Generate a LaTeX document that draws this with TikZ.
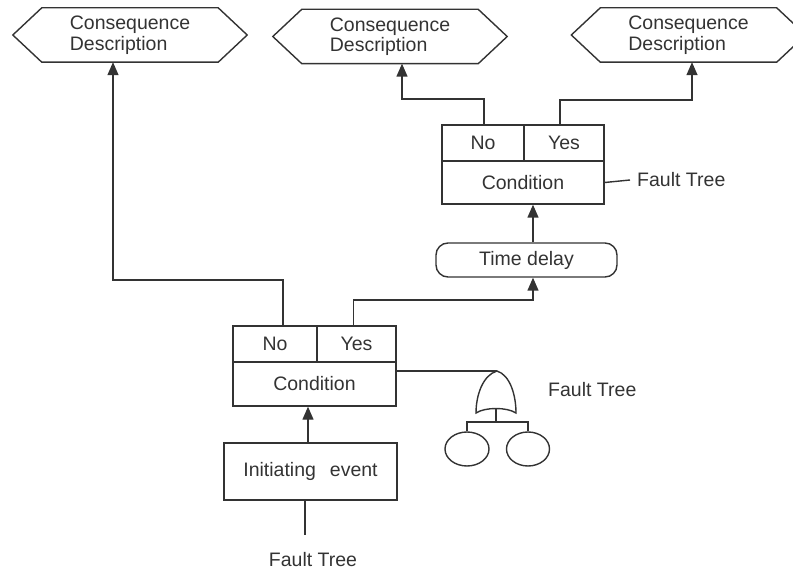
\documentclass[tikz,border=0pt]{standalone}
\usepackage{fontspec}
\setmainfont{Liberation Sans}
\usetikzlibrary{arrows.meta,shapes.geometric}
\definecolor{ink}{HTML}{333333}
\newcommand\hexout[1]{\draw[ln] (#1.north west) -- (#1.north east) -- ([xshift=29pt]#1.east) -- (#1.south east) -- (#1.south west) -- ([xshift=-29pt]#1.west) -- cycle;}
\begin{document}
\begin{tikzpicture}[x=1pt,y=-1pt,
  every node/.style={text=ink,font=\fontsize{19.5}{20.5}\selectfont,inner sep=0pt},
  ln/.style={draw=ink,line width=1.4pt},
  arr/.style={ln,-{Triangle[length=13pt,width=11pt]}},
  hexbox/.style={minimum width=176pt,minimum height=54pt,align=left},
  cell/.style={draw=ink,line width=1.4pt,rectangle,anchor=center}]
\useasboundingbox (0,0) rectangle (793,572);
% consequence hexagons
\node[hexbox] (hex1) at (130,35) {Consequence\\Description};
\hexout{hex1}
\node[hexbox] (hex2) at (390,36.5) {Consequence\\Description};
\hexout{hex2}
\node[hexbox] (hex3) at (688.5,35) {Consequence\\Description};
\hexout{hex3}
% upper condition
\node[cell,minimum width=82pt,minimum height=36pt] (no2) at (483,143) {No};
\node[cell,minimum width=80pt,minimum height=36pt] (yes2) at (564,143) {Yes};
\node[cell,minimum width=162pt,minimum height=43pt] (cond2) at (523,182.5) {Condition};
\node[anchor=west] (ft2) at (637,180) {Fault Tree};
% time delay
\node[draw=ink,line width=1.4pt,rounded corners=12pt,minimum width=181pt,minimum height=34pt] (delay) at (526.5,260) {Time delay};
% lower condition
\node[cell,minimum width=84pt,minimum height=36pt] (no1) at (275,344) {No};
\node[cell,minimum width=79pt,minimum height=36pt] (yes1) at (356.5,344) {Yes};
\node[cell,minimum width=163pt,minimum height=44pt] (cond1) at (314.5,384) {Condition};
\node[anchor=west] (ft1) at (548,390) {Fault Tree};
% initiating event
\node[cell,minimum width=173pt,minimum height=57pt] (ie) at (310.5,471.5) {Initiating\hspace{14pt}event};
\node (ft0) at (313,560) {Fault Tree};
% fault tree symbol
\coordinate (gtop) at (497,371);
\coordinate (gbot) at (496,409);
\draw[ln] (gtop) .. controls (483,375) and (476,395) .. (476,413)
  .. controls (485,407) and (507,407) .. (516,413)
  .. controls (516,395) and (510,375) .. (gtop) -- cycle;
\node[draw=ink,line width=1.4pt,ellipse,minimum width=44pt,minimum height=34pt] (e1) at (467,449) {};
\node[draw=ink,line width=1.4pt,ellipse,minimum width=43pt,minimum height=34pt] (e2) at (528,449) {};
\coordinate (bar) at (496,422);
\draw[ln] (gbot) -- (bar);
\draw[ln] (e1.north) -- (e1.north |- bar) -- (e2.north |- bar) -- (e2.north);
% connectors
\coordinate (k1) at (113,280);
\coordinate (k2) at (533,300);
\coordinate (k3) at (402,99);
\coordinate (k4) at (692,100);
\coordinate (k5) at (308,0);
\coordinate (k6) at (305,535);
\draw[arr] ([xshift=8pt]no1.north) |- (k1) -- (k1 |- hex1.south);
\draw[arr] ([xshift=-3pt]yes1.north) |- (k2) -- (k2 |- delay.south);
\draw[arr] (k2 |- delay.north) -- (k2 |- cond2.south);
\draw[arr] ([xshift=1pt]no2.north) |- (k3) -- (k3 |- hex2.south);
\draw[arr] ([xshift=-4pt]yes2.north) |- (k4) -- (k4 |- hex3.south);
\draw[ln] (cond2.east) -- ([xshift=-7pt]ft2.west);
\draw[ln] (cond1.east |- gtop) -- (gtop);
\draw[arr] (k5 |- ie.north) -- (k5 |- cond1.south);
\draw[ln] (k6 |- ie.south) -- (k6);
\end{tikzpicture}
\end{document}
